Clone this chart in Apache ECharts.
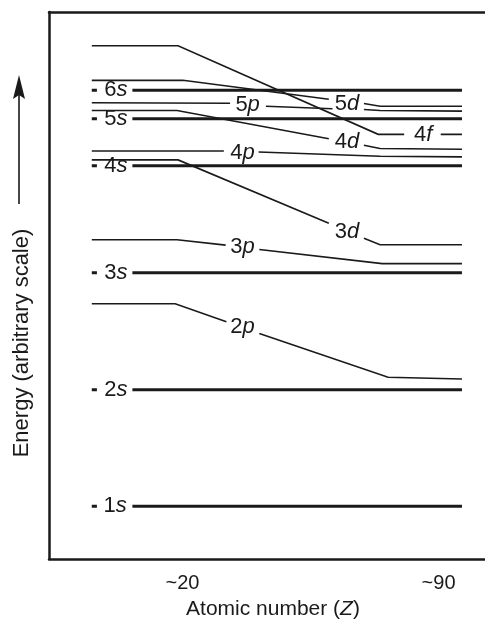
<!DOCTYPE html>
<html>
<head>
<meta charset="utf-8">
<script src="https://cdn.jsdelivr.net/npm/echarts@6/dist/echarts.min.js"></script>
<style>
html,body{margin:0;padding:0;background:#fff;}
#chart{width:485px;height:625px;}
</style>
</head>
<body>
<div id="chart"></div>
<script>
// ---- Data (x: atomic number Z, y: energy in arbitrary units) ----
const zTicks = [20, 90];
const tickLabels = ['~20', '~90'];

// s levels (thick, constant)
const sLevelNames = ['1s', '2s', '3s', '4s', '5s', '6s'];
const sLevelEnergy = [53, 170.3, 287.7, 395.3, 442.7, 471.3];

// other levels: segments of [Z, E] points (gaps hold the labels)
const level2p = [[[-4.8, 256.7], [18.0, 256.7], [32.0, 238.5]], [[41.0, 226.8], [76.2, 182.7], [96.4, 181]]];
const level3p = [[[-4.8, 321], [18.5, 321], [31.8, 315.6]], [[41.0, 311.2], [74.6, 297], [96.4, 297]]];
const level3d = [[[-4.8, 401.3], [18.8, 401.3], [60.0, 337.5]], [[69.6, 322.6], [74.0, 316], [96.4, 316]]];
const level4p = [[[-4.8, 410.3], [31.3, 410.3]], [[40.8, 409.3], [74.0, 405], [96.4, 404.3]]];
const level4d = [[[-4.8, 451], [18.5, 451], [60.0, 422.5]], [[69.6, 416], [74.0, 412.7], [96.4, 412]]];
const level4f = [[[-4.8, 516], [18.8, 516], [73.5, 427], [80.6, 427]], [[90.6, 427], [96.4, 427]]];
const level5p = [[[-4.8, 458.7], [33.0, 458.3]], [[42.8, 455.3], [61.0, 452.7]], [[69.6, 452], [74.0, 451], [96.4, 450.3]]];
const level5d = [[[-4.8, 481.3], [20.1, 481.3], [60.0, 462.3]], [[69.6, 458], [74.0, 455.3], [96.4, 455.3]]];

// labels
const labelText = ['6s', '5s', '4s', '3s', '2s', '1s', '5p', '5d', '4d', '4f', '4p', '3d', '3p', '2p'];
const labelZ = [1.8, 1.8, 1.8, 1.8, 1.8, 1.6, 37.8, 65.0, 65.0, 85.8, 36.4, 65.0, 36.4, 36.4];
const labelE = [471.3, 442.7, 395.3, 287.7, 170.3, 53, 456.5, 458, 419, 426, 408, 329, 314, 233];

// s-level geometry in Z units: short dash then line after the label
const sDash = [-4.8, -3.4];
const sLine = [6.3, 96.4];

// ---- Build chart ----
const INK = '#1a1a1a';
const FONT = 'Liberation Sans, Arial, Helvetica, sans-serif';
const series = [];

function addSeg(pts, width) {
  series.push({
    type: 'line', data: pts, symbol: 'none', silent: true, animation: false,
    lineStyle: { color: INK, width: width, cap: 'butt', join: 'miter' }, z: 3
  });
}
sLevelEnergy.forEach(function (e) {
  addSeg([[sDash[0], e], [sDash[1], e]], 3);
  addSeg([[sLine[0], e], [sLine[1], e]], 3);
});
[level2p, level3p, level3d, level4p, level4d, level4f, level5p, level5d].forEach(function (lv) {
  lv.forEach(function (seg) { addSeg(seg, 1.6); });
});

series.push({
  type: 'scatter', silent: true, animation: false, symbolSize: 0.1, z: 5,
  itemStyle: { color: INK, opacity: 0 },
  data: labelText.map(function (t, i) { return { value: [labelZ[i], labelE[i]], name: t }; }),
  label: {
    show: true, position: 'inside', color: INK, textBorderWidth: 0, opacity: 1,
    formatter: function (p) { return '{n|' + p.name.slice(0, 1) + '}{i|' + p.name.slice(1) + '}'; },
    rich: {
      n: { fontFamily: FONT, fontSize: 22, color: INK, textBorderWidth: 0 },
      i: { fontFamily: FONT, fontSize: 22, color: INK, fontStyle: 'italic', textBorderWidth: 0 }
    }
  }
});

const chart = echarts.init(document.getElementById('chart'), null, { renderer: 'canvas' });
chart.setOption({
  animation: false,
  backgroundColor: '#fff',
  grid: { left: 49, right: 0, top: 12, bottom: 63 },
  xAxis: [{
    type: 'value', min: -16.5, max: 102.7, position: 'bottom',
    axisLine: { show: true, onZero: false, lineStyle: { color: INK, width: 2.5 } },
    axisTick: { show: false },
    splitLine: { show: false },
    axisLabel: {
      customValues: zTicks, margin: 14,
      fontFamily: FONT, fontSize: 20, color: INK,
      formatter: function (v) { const k = zTicks.indexOf(v); return k >= 0 ? tickLabels[k] : ''; }
    },
    name: 'Atomic number ({z|Z})', nameLocation: 'middle', nameGap: 40,
    nameTextStyle: {
      fontFamily: FONT, fontSize: 21, color: INK, padding: [0, 0, 0, 12],
      rich: { z: { fontFamily: FONT, fontSize: 21, color: INK, fontStyle: 'italic' } }
    }
  }, {
    type: 'value', min: -16.5, max: 102.7, position: 'top',
    axisLine: { show: true, onZero: false, lineStyle: { color: INK, width: 2.5 } },
    axisTick: { show: false }, axisLabel: { show: false }, splitLine: { show: false }
  }],
  yAxis: {
    type: 'value', min: 0, max: 550, position: 'left',
    axisLine: { show: true, onZero: false, lineStyle: { color: INK, width: 2.5 } },
    axisTick: { show: false }, axisLabel: { show: false }, splitLine: { show: false }
  },
  graphic: [
    { type: 'line', shape: { x1: 19, y1: 204, x2: 19, y2: 92 }, style: { stroke: INK, lineWidth: 1.6 }, silent: true },
    { type: 'polygon', shape: { points: [[19, 75], [25, 99], [19, 95], [13, 99]] }, style: { fill: INK }, silent: true },
    {
      type: 'text', x: 22, y: 343, rotation: Math.PI / 2, silent: true,
      style: { text: 'Energy (arbitrary scale)', fontFamily: FONT, fontSize: 22, fill: INK, align: 'center', verticalAlign: 'middle' }
    }
  ],
  series: series
});
</script>
</body>
</html>
